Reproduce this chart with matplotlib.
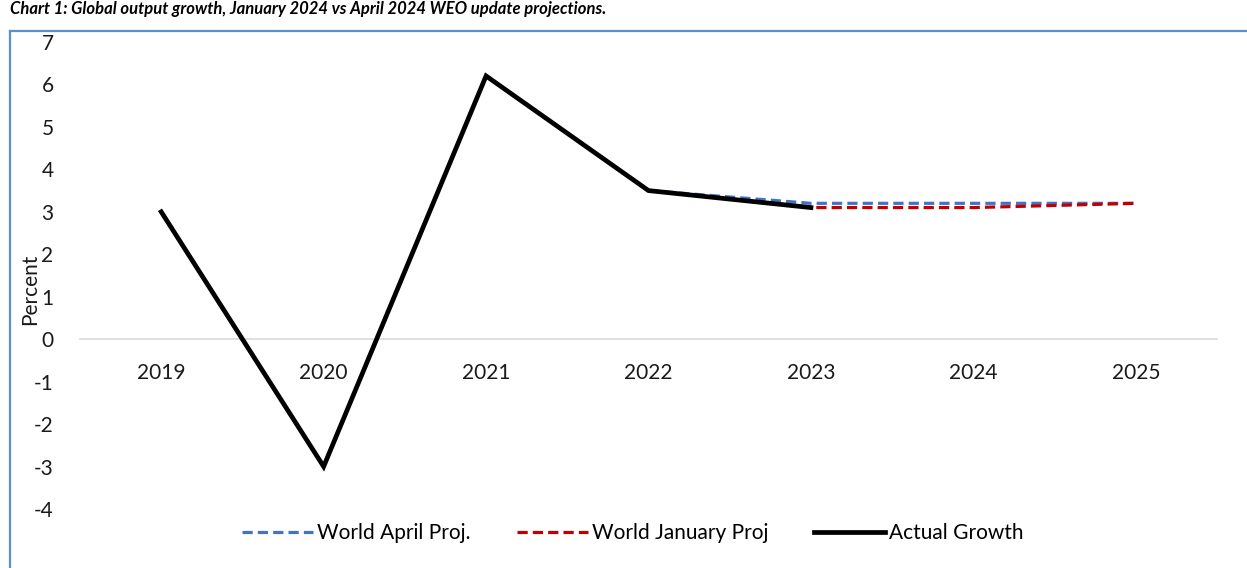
import numpy as np
import matplotlib.pyplot as plt
from matplotlib.lines import Line2D

years = ['2019', '2020', '2021', '2022', '2023', '2024', '2025']
actual = [3.0, -3.0, 6.2, 3.5, 3.1]
april_years = ['2022', '2023', '2024', '2025']
april_proj = [3.5, 3.2, 3.2, 3.2]
jan_years = ['2022', '2023', '2024', '2025']
jan_proj = [3.5, 3.1, 3.1, 3.2]

title = 'Chart 1: Global output growth, January 2024 vs April 2024 WEO update projections.'

plt.rcParams['font.family'] = ['Lato', 'DejaVu Sans']
plt.rcParams['axes.unicode_minus'] = False

W, H = 1247, 568
fig = plt.figure(figsize=(W / 100, H / 100), dpi=100)
ax = fig.add_axes([80 / W, 1 - 509 / H, (1217 - 80) / W, (509 - 42) / H])

fs = 15
xpos = {y: i for i, y in enumerate(years)}
ax.plot([xpos[y] for y in april_years], april_proj, color='#4472C4', lw=2.3,
        ls=(0, (3.2, 1.6)), label='World April Proj.', zorder=2)
ax.plot([xpos[y] for y in jan_years], jan_proj, color='#C00000', lw=2.3,
        ls=(0, (3.2, 1.6)), label='World January Proj', zorder=2)
ax.plot(range(len(actual)), actual, color='black', lw=3.4,
        label='Actual Growth', zorder=3, solid_joinstyle='miter')

ax.set_xlim(-0.5, 6.5)
ax.set_ylim(-4, 7)
ax.set_yticks(range(-4, 8))
ax.set_xticks(range(len(years)))
ax.set_xticklabels(years)
for s in ['top', 'right', 'left']:
    ax.spines[s].set_visible(False)
ax.spines['bottom'].set_position(('data', 0))
ax.spines['bottom'].set_color('#D9D9D9')
ax.spines['bottom'].set_linewidth(1.2)
ax.tick_params(axis='both', length=0, labelsize=fs, colors='#1a1a1a')
ax.tick_params(axis='y', pad=19)
ax.tick_params(axis='x', pad=17)
ax.set_ylabel('Percent', fontsize=fs, color='#1a1a1a')
ax.yaxis.set_label_coords(-40 / (1217 - 80), 0.47)

ax.legend(loc='center', bbox_to_anchor=(633 / W, 1 - 533 / H),
          bbox_transform=fig.transFigure, ncol=3, frameon=False,
          fontsize=fs, handlelength=3.4, handletextpad=0.2,
          columnspacing=2.2)

# chart frame (cut off at right and bottom)
fig.add_artist(Line2D([9.5 / W, 9.5 / W], [0, 1 - 31 / H], color='#5B8FD0',
                      lw=1.6, transform=fig.transFigure))
fig.add_artist(Line2D([9.5 / W, 1], [1 - 31 / H, 1 - 31 / H], color='#5B8FD0',
                      lw=1.6, transform=fig.transFigure))
fig.text(10 / W, 1 - 14 / H, title, fontsize=12, fontweight='bold',
         fontstyle='italic', va='baseline', ha='left')

fig.savefig('out.png', dpi=100)
